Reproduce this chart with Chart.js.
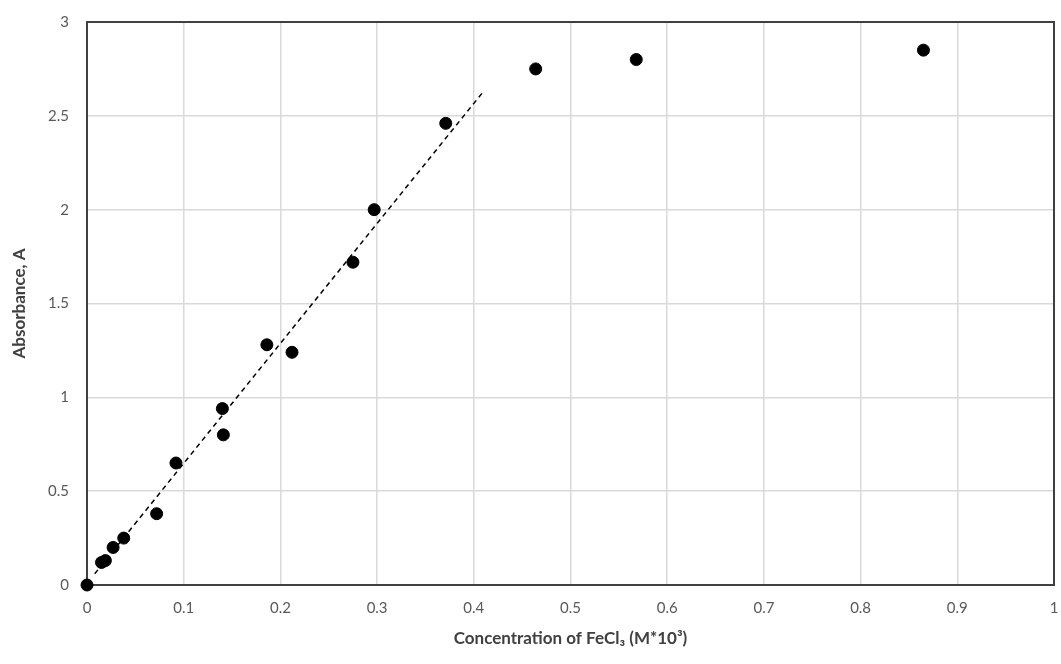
<!DOCTYPE html>
<html>
<head>
<meta charset="utf-8">
<script src="https://cdn.jsdelivr.net/npm/chart.js@4/dist/chart.umd.min.js"></script>
<style>
  html, body { margin: 0; padding: 0; background: #fff; }
  #wrap { width: 1061px; height: 664px; }
</style>
</head>
<body>
<div id="wrap"><canvas id="chart" width="1061" height="664"></canvas></div>
<script>
// measured points, concentration (M*10^3) vs absorbance
var concentration = [0, 0.015, 0.019, 0.027, 0.038, 0.072, 0.092, 0.140, 0.141, 0.186, 0.212, 0.275, 0.297, 0.371, 0.464, 0.568, 0.865]
var absorbance = [0, 0.12, 0.13, 0.20, 0.25, 0.38, 0.65, 0.94, 0.80, 1.28, 1.24, 1.72, 2.00, 2.46, 2.75, 2.80, 2.85]

// linear trendline
var trendX = [0.008, 0.410]
var trendY = [0.06, 2.63]

var points = concentration.map(function (c, i) { return { x: c, y: absorbance[i] } })
var trend = trendX.map(function (c, i) { return { x: c, y: trendY[i] } })

var frame = {
    id: 'frame',
    beforeDatasetsDraw: function (chart) {
        var a = chart.chartArea
        var ctx = chart.ctx
        ctx.save()
        ctx.strokeStyle = '#404040'
        ctx.lineWidth = 2
        ctx.strokeRect(a.left, a.top, a.right - a.left, a.bottom - a.top)
        ctx.restore()
    }
}

var font = "Lato, 'Open Sans', sans-serif"

// 1.0 -> "1", 0.5 -> "0.5"
function plain(v) { return String(Number(v.toFixed(1))) }

new Chart(document.getElementById('chart').getContext('2d'), {
    type: 'scatter',
    data: {
        datasets: [{
            label: 'Trend',
            data: trend,
            showLine: true,
            borderColor: '#000',
            borderWidth: 1.5,
            borderDash: [5, 4],
            pointRadius: 0,
            order: 2
        }, {
            label: 'Absorbance',
            data: points,
            backgroundColor: '#000',
            borderColor: '#000',
            pointRadius: 6,
            clip: false,
            order: 1
        }]
    },
    plugins: [frame],
    options: {
        responsive: false,
        animation: false,
        layout: {
            padding: { top: 22, right: 3, left: 0, bottom: 0 }
        },
        plugins: {
            legend: { display: false },
            tooltip: { enabled: false }
        },
        scales: {
            x: {
                type: 'linear',
                min: 0,
                max: 1,
                afterFit: function (s) {
                    s.height = 79
                    s.paddingLeft = 0
                    s.paddingRight = 0
                },
                grid: { color: '#d9d9d9', lineWidth: 1.5, drawTicks: false },
                border: { display: false },
                ticks: {
                    stepSize: 0.1,
                    padding: 14,
                    color: '#595959',
                    font: { family: font, size: 15 },
                    callback: plain
                },
                title: {
                    display: true,
                    text: 'Concentration of FeCl₃ (M*10³)',
                    color: '#404040',
                    font: { family: font, size: 17, weight: 'bold' },
                    padding: { top: 8, bottom: 15 }
                }
            },
            y: {
                type: 'linear',
                min: 0,
                max: 3,
                afterFit: function (s) {
                    s.width = 87
                    s.paddingTop = 0
                    s.paddingBottom = 0
                },
                grid: { color: '#d9d9d9', lineWidth: 1.5, drawTicks: false },
                border: { display: false },
                ticks: {
                    stepSize: 0.5,
                    padding: 18,
                    color: '#595959',
                    font: { family: font, size: 15 },
                    callback: plain
                },
                title: {
                    display: true,
                    text: 'Absorbance, A',
                    color: '#404040',
                    font: { family: font, size: 17, weight: 'bold' },
                    padding: { top: 9, bottom: 0 }
                }
            }
        }
    }
});
</script>
</body>
</html>
